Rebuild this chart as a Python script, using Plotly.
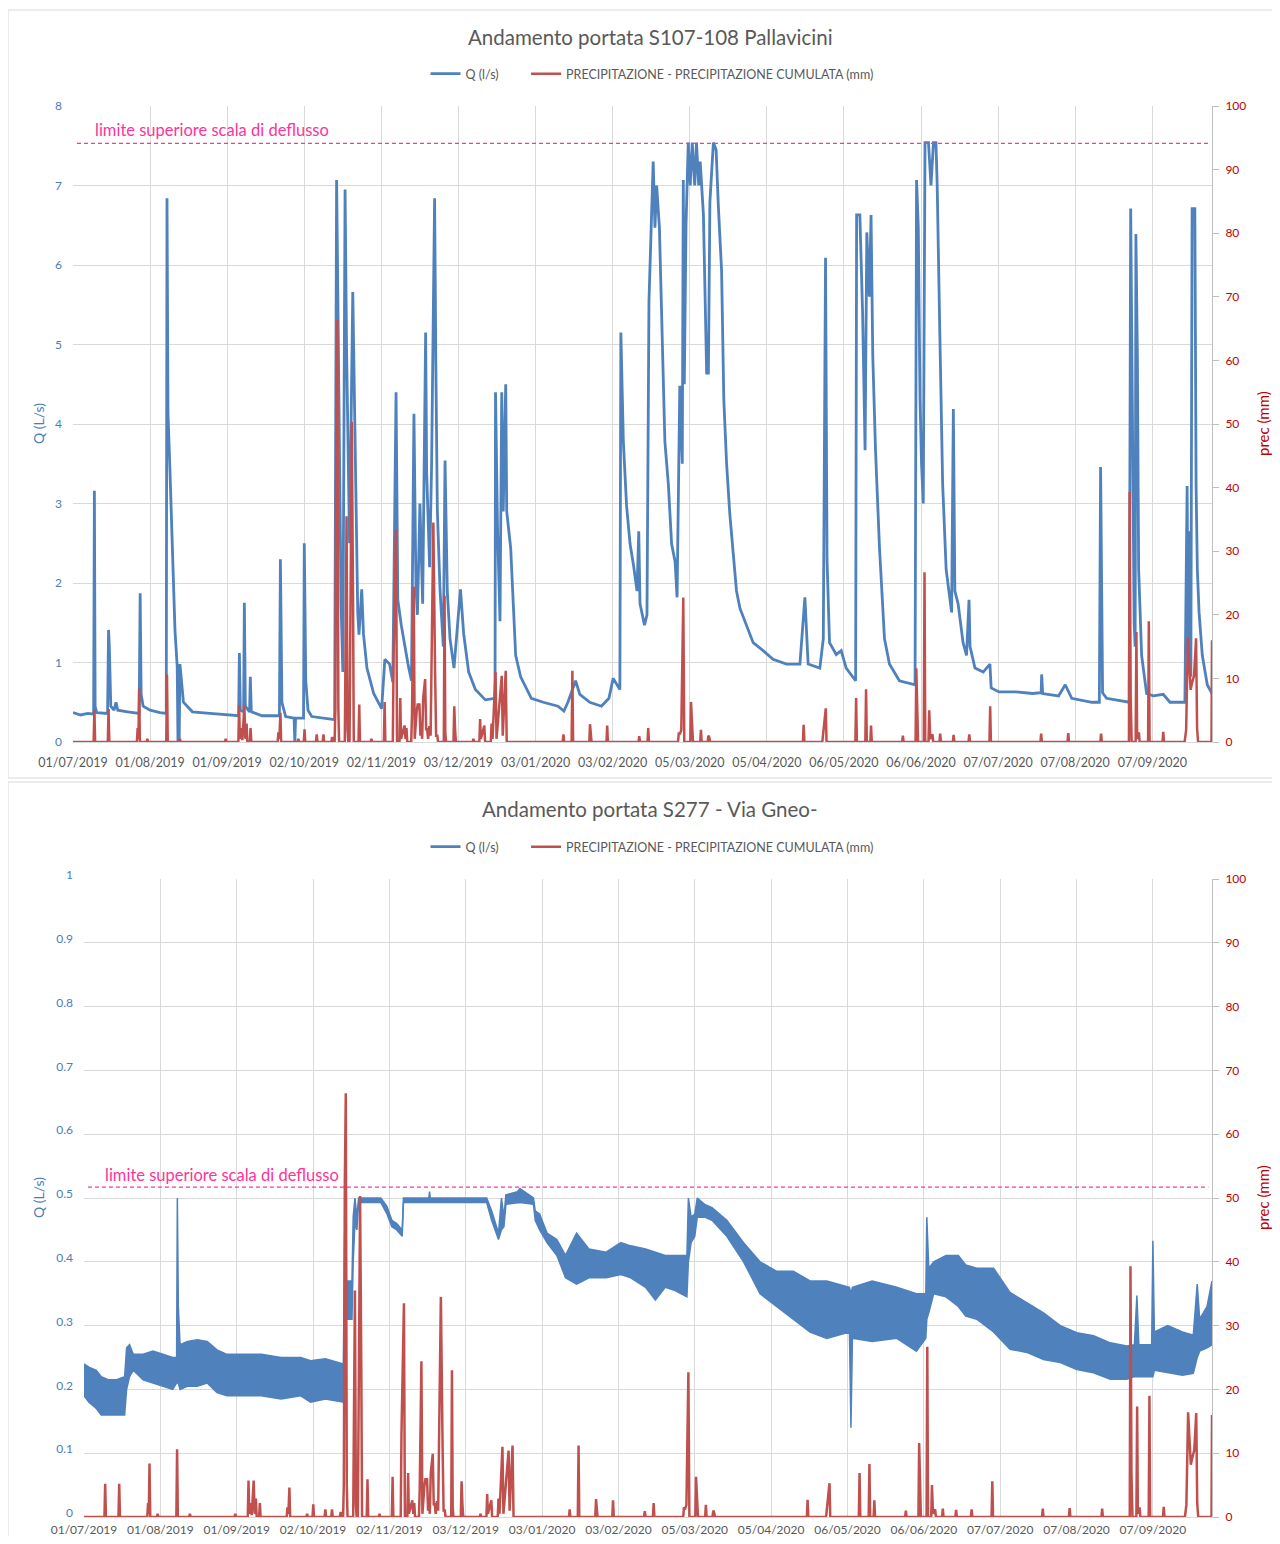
import numpy as np
import plotly.graph_objects as go

# ---------------- DATA (x values are days since 01/07/2019) ----------------
START = "2019-07-01"
END = "2020-10-01"

q1_day = [0, 3, 6, 8.3, 8.6, 8.9, 9.5, 13.9, 14.3, 14.6,
          15.2, 16.5, 17.3, 18, 22, 26.6, 27.0, 27.4, 28.2, 31,
          35, 37.5, 37.8, 38.2, 39.0, 40.3, 41.0, 41.9, 42.2, 42.7,
          43.0, 44.4, 48, 55, 62, 66.6, 66.9, 67.3, 68.6, 68.9,
          69.3, 71.0, 71.3, 71.7, 76, 83.0, 83.4, 84.0, 85.5, 88.9,
          89.2, 89.5, 92.7, 93.0, 93.6, 94.5, 96, 100, 105.2, 106.0,
          106.4, 107.3, 107.8, 108.5, 109.4, 110.0, 110.6, 111.2, 112.5, 113.0,
          113.7, 114.5, 115.0, 116.1, 116.8, 118.2, 120.9, 124.1, 125.4, 127.3,
          128.6, 129.9, 130.6, 132.0, 134.7, 136.1, 137.1, 137.9, 138.5, 139.5,
          140.6, 141.8, 142.2, 142.8, 143.4, 144.2, 145.4, 145.9, 146.5, 147.6,
          148.9, 149.6, 150.5, 151.6, 153.2, 155.8, 157.1, 159.1, 161.8, 165.8,
          169.7, 169.9, 170.7, 171.7, 172.4, 173.0, 174.0, 174.4, 176.0, 178.0,
          180.0, 184.3, 189.1, 195, 197.4, 199, 202.1, 203.8, 207.8, 212.5,
          215.5, 217.2, 219.9, 220.3, 221.3, 222.6, 224.0, 225.4, 226.8, 227.5,
          228.0, 229.8, 230.8, 231.6, 232.0, 232.7, 233.3, 234.0, 234.7, 235.8,
          236.7, 238.0, 239.4, 240.7, 242.1, 242.9, 244.0, 245.0, 245.4, 245.8,
          246.5, 247.4, 248.2, 249.0, 250.0, 250.7, 251.6, 252.2, 253.5, 254.8,
          255.5, 256.1, 257.5, 258.6, 259.5, 260.8, 261.7, 262.8, 264.1, 265.5,
          266.8, 268.2, 270.8, 273.5, 277.5, 281.5, 286.9, 292.3, 294.3, 295.6,
          300.3, 301.7, 302.6, 303.2, 304.2, 306.9, 308.9, 310.9, 314.7, 315.1,
          316.4, 317.5, 318.5, 319.2, 320.2, 320.9, 321.6, 322.7, 324.3, 326.3,
          328.3, 332.3, 338.6, 339.2, 339.9, 340.6, 341.2, 341.9, 342.6, 344.0,
          345.0, 346.0, 347.0, 347.5, 348.4, 349.7, 351.1, 353.3, 354.0, 354.6,
          355.9, 357.9, 359.3, 360.3, 360.7, 362.7, 366.0, 368.7, 369.2, 372.4,
          379.1, 385.8, 389.3, 389.5, 389.9, 396.3, 399.0, 401.6, 409.7, 412.7,
          413.2, 414.0, 415.6, 424.7, 425.3, 426.1, 426.7, 427.1, 427.4, 428.0,
          428.5, 429.7, 431.7, 434.4, 438.4, 441.1, 447.1, 448.0, 448.4, 448.7,
          449.5, 450.0, 451.1, 451.6, 452.1, 452.8, 454.1, 456.1, 458.0]
q1_val = [0.37, 0.34, 0.36, 0.35, 3.16, 0.45, 0.37, 0.36, 1.41, 1.2,
          0.45, 0.4, 0.5, 0.4, 0.38, 0.36, 1.87, 0.6, 0.45, 0.4,
          0.37, 0.36, 6.84, 4.13, 3.4, 2.27, 1.41, 0.95, 0.02, 0.02,
          0.98, 0.5, 0.38, 0.36, 0.34, 0.33, 1.12, 0.4, 0.38, 1.75,
          0.45, 0.38, 0.82, 0.38, 0.33, 0.33, 2.3, 0.5, 0.32, 0.3,
          0.0, 0.3, 0.3, 2.5, 0.77, 0.4, 0.32, 0.3, 0.28, 7.07,
          5.7, 2.65, 1.74, 0.88, 6.95, 4.96, 3.5, 2.5, 5.66, 4.69,
          3.08, 1.63, 1.35, 1.92, 1.36, 0.93, 0.61, 0.42, 1.04, 0.98,
          0.75, 4.4, 1.79, 1.47, 0.98, 0.77, 4.13, 1.95, 1.6, 3.0,
          1.74, 5.15, 3.4, 2.7, 2.2, 3.5, 6.84, 4.75, 2.92, 1.9,
          1.2, 3.54, 1.9, 1.3, 0.93, 1.92, 1.36, 0.88, 0.66, 0.53,
          0.55, 4.4, 2.7, 1.52, 4.4, 2.9, 4.5, 2.9, 2.44, 1.09,
          0.82, 0.55, 0.5, 0.45, 0.39, 0.5, 0.77, 0.6, 0.5, 0.45,
          0.55, 0.8, 0.66, 5.15, 3.78, 2.97, 2.49, 2.22, 1.9, 2.65,
          1.74, 1.47, 1.6, 5.55, 6.0, 6.95, 7.3, 6.47, 7.0, 6.47,
          5.4, 3.78, 3.24, 2.49, 2.27, 1.82, 4.48, 3.5, 7.07, 4.5,
          6.5, 7.54, 7.0, 7.54, 7.0, 7.54, 7.0, 7.3, 6.63, 4.64,
          4.64, 6.79, 7.54, 7.45, 6.74, 5.93, 4.3, 3.51, 2.87, 2.38,
          1.9, 1.68, 1.47, 1.25, 1.15, 1.04, 0.98, 0.98, 1.82, 0.98,
          0.93, 1.3, 6.09, 2.3, 1.25, 1.1, 1.15, 0.93, 0.77, 6.63,
          6.63, 5.4, 3.67, 6.41, 5.6, 6.63, 4.85, 3.67, 2.44, 1.3,
          0.98, 0.77, 0.72, 7.07, 6.47, 4.3, 3.5, 3.0, 7.54, 7.54,
          7.0, 7.54, 7.54, 7.0, 5.4, 3.24, 2.17, 1.63, 4.19, 1.9,
          1.74, 1.25, 1.09, 1.79, 1.2, 0.93, 0.88, 0.98, 0.68, 0.63,
          0.63, 0.61, 0.62, 0.85, 0.61, 0.58, 0.72, 0.55, 0.5, 0.5,
          3.46, 0.62, 0.55, 0.5, 6.71, 3.62, 1.5, 1.2, 6.39, 4.85,
          2.17, 1.09, 0.61, 0.58, 0.6, 0.5, 0.5, 3.22, 1.1, 2.65,
          0.82, 6.71, 6.71, 3.24, 2.17, 1.63, 1.09, 0.72, 0.61]

# S277: flow read as the lower and upper edge of the noisy trace
q2_day = [0, 2, 5, 7, 10, 13, 16.5, 17.3, 18.5, 20,
          24, 28, 32, 36, 37.6, 37.9, 38.3, 39, 42, 46,
          50, 54, 58, 65, 72, 80, 88, 92, 98, 105.3,
          106.0, 106.5, 108.8, 109.3, 110.0, 110.8, 111.5, 120.5, 123, 125,
          127, 129.2, 129.7, 140, 140.3, 140.6, 163.5, 165.5, 168.3, 169.5,
          170.5, 171.3, 176, 177, 182.5, 183.2, 185, 188, 192, 195.5,
          200, 205, 212, 218, 222, 228, 232, 236, 240, 244.8,
          245.4, 246.5, 248, 249, 252, 255, 261, 267.8, 274.5, 281.3,
          288, 294.8, 301.6, 310.8, 311.4, 312, 320, 330, 338, 341.8,
          342.2, 343, 345, 350, 355, 358, 362.5, 369.3, 376, 382.8,
          389.6, 396.4, 403.1, 409.9, 416.7, 423.4, 426.5, 427.5, 428.3, 433.5,
          434, 434.6, 440, 446, 450.4, 452, 453, 456, 458]
q2_low = [0.19, 0.18, 0.17, 0.16, 0.16, 0.16, 0.16, 0.2, 0.22, 0.23,
          0.215, 0.21, 0.205, 0.2, 0.21, 0.21, 0.21, 0.2, 0.205, 0.205,
          0.21, 0.195, 0.19, 0.19, 0.19, 0.185, 0.19, 0.18, 0.185, 0.18,
          0.3, 0.31, 0.31, 0.4, 0.46, 0.45, 0.493, 0.493, 0.475, 0.455,
          0.45, 0.44, 0.493, 0.493, 0.493, 0.493, 0.493, 0.465, 0.435, 0.45,
          0.455, 0.49, 0.493, 0.493, 0.49, 0.465, 0.45, 0.43, 0.41, 0.375,
          0.365, 0.375, 0.375, 0.38, 0.375, 0.36, 0.34, 0.36, 0.355, 0.345,
          0.4, 0.43, 0.44, 0.47, 0.47, 0.465, 0.44, 0.4, 0.35, 0.33,
          0.31, 0.29, 0.28, 0.29, 0.14, 0.28, 0.275, 0.28, 0.26, 0.28,
          0.31, 0.32, 0.35, 0.345, 0.33, 0.315, 0.31, 0.29, 0.263, 0.258,
          0.247, 0.242, 0.231, 0.226, 0.216, 0.216, 0.22, 0.22, 0.22, 0.22,
          0.22, 0.23, 0.226, 0.222, 0.225, 0.25, 0.26, 0.265, 0.27]
q2_high = [0.24, 0.235, 0.23, 0.22, 0.215, 0.215, 0.22, 0.265, 0.27, 0.255,
           0.255, 0.26, 0.255, 0.25, 0.25, 0.5, 0.33, 0.27, 0.275, 0.278,
           0.275, 0.262, 0.255, 0.255, 0.255, 0.25, 0.25, 0.245, 0.248, 0.24,
           0.5, 0.37, 0.37, 0.47, 0.5, 0.47, 0.5, 0.5, 0.487, 0.465,
           0.46, 0.45, 0.5, 0.5, 0.51, 0.5, 0.5, 0.48, 0.445, 0.5,
           0.47, 0.505, 0.51, 0.515, 0.5, 0.48, 0.475, 0.445, 0.435, 0.41,
           0.445, 0.42, 0.415, 0.43, 0.425, 0.42, 0.415, 0.41, 0.41, 0.41,
           0.5, 0.47, 0.475, 0.5, 0.49, 0.485, 0.465, 0.43, 0.4, 0.385,
           0.385, 0.37, 0.37, 0.36, 0.35, 0.36, 0.37, 0.36, 0.35, 0.35,
           0.47, 0.39, 0.4, 0.41, 0.41, 0.395, 0.39, 0.39, 0.352, 0.336,
           0.32, 0.3, 0.289, 0.284, 0.273, 0.268, 0.27, 0.347, 0.27, 0.27,
           0.433, 0.29, 0.3, 0.29, 0.285, 0.365, 0.31, 0.33, 0.37]

# Precipitation (mm), same rain gauge for both charts
prec_day = [0, 8.3, 8.6, 8.9, 14.0, 14.3, 14.6, 25.7, 26.0, 26.3, 26.6, 26.9,
            29.6, 29.9, 30.2, 37.5, 37.8, 38.1, 42.7, 43.0, 43.3, 61.1, 61.4, 61.7,
            66.5, 66.8, 67.1, 67.8, 68.1, 68.9, 69.3, 69.8, 70.1, 71.1, 71.4, 71.7,
            82.3, 82.6, 83.0, 83.4, 83.7, 90.3, 90.6, 90.9, 92.8, 93.1, 93.4,
            97.7, 98.0, 98.3, 100.4, 100.7, 101.0, 103.9, 104.2, 104.5,
            105.2, 105.5, 105.9, 106.3, 106.7, 107.0,
            109.3, 109.6, 110.0, 110.4, 110.7, 111.2, 111.6, 112.1, 112.6, 112.9,
            114.8, 115.1, 115.4, 119.7, 120.0, 120.3, 125.0, 125.3, 125.6,
            128.6, 128.9, 129.9, 130.3, 131.3, 131.6, 131.9, 133.3, 133.7, 134.1, 134.4,
            136.0, 136.3, 137.0, 137.4, 138.2, 138.6, 139.3, 139.7, 140.0, 140.4,
            140.8, 141.6, 142.0, 142.4, 142.8, 143.3, 143.8, 144.2, 144.9, 145.6,
            146.0, 146.5, 146.8, 149.1, 149.4, 149.7, 150.0, 153.0, 153.3, 153.7, 154.0,
            160.7, 161.0, 161.3, 163.4, 163.7, 164.0, 165.4, 165.7,
            168.0, 168.3, 168.7, 169.9, 170.3, 172.4, 172.8, 174.0, 174.4,
            196.9, 197.2, 197.5, 200.5, 200.8, 201.1, 207.6, 207.9, 208.2, 208.5,
            214.5, 214.8, 215.1, 227.4, 227.7, 228.0, 231.0, 231.3, 231.6,
            243.3, 243.6, 244.0, 244.6, 245.4, 245.8, 248.2, 248.5, 248.9, 249.3,
            252.2, 252.5, 252.8, 255.2, 255.5, 255.8, 256.2, 293.5, 293.8, 294.1,
            301.3, 301.6, 302.7, 303.0, 314.6, 314.9, 315.2, 318.6, 318.9, 319.2,
            320.6, 320.9, 321.2, 333.4, 333.7, 334.0, 338.8, 339.1, 339.5, 339.8,
            342.1, 342.4, 342.7, 344.0, 344.3, 344.7, 345.6, 345.9,
            348.4, 348.7, 349.0, 353.8, 354.1, 354.4, 360.1, 360.4, 360.7,
            368.5, 368.8, 369.1, 389.0, 389.3, 389.6, 399.9, 400.2, 400.5,
            413.1, 413.4, 413.7, 424.6, 424.9, 425.3, 425.7, 427.3, 427.6, 427.9,
            428.6, 428.9, 432.3, 432.6, 432.9, 438.1, 438.4, 438.7,
            447.0, 447.6, 448.3, 449.0, 449.4, 450.0, 450.8, 451.6, 452.0, 452.4,
            457.8, 458.0]
prec_mm = [0, 0, 5.2, 0, 0, 5.2, 0, 0, 2.2, 0.5, 8.4, 0,
           0, 0.5, 0, 0, 10.6, 0, 0, 0.5, 0, 0, 0.5, 0,
           0, 5.7, 0.5, 2.2, 0.3, 5.7, 0.5, 2.9, 0, 0, 2.2, 0,
           0, 1.5, 0.5, 4.6, 0, 0, 0.5, 0, 0, 2.0, 0,
           0, 1.2, 0, 0, 1.2, 0, 0, 0.8, 0,
           0, 5.2, 52.3, 66.4, 5.1, 0,
           0, 12.1, 35.5, 2.0, 0, 0, 19.7, 50.3, 22.7, 0,
           0, 5.9, 0, 0, 0.5, 0, 0, 6.3, 0,
           0, 13.0, 33.5, 0, 0, 6.9, 0.5, 2.6, 0.5, 2.2, 0,
           0, 4.2, 24.4, 0.5, 4.8, 5.9, 5.9, 1.0, 2.5, 0.5,
           6.9, 9.9, 2.0, 2.0, 0.5, 2.5, 1.0, 11.0, 34.5, 11.0,
           1.0, 1.0, 0, 0, 23.0, 1.5, 0, 0, 5.6, 1.5, 0,
           0, 0.5, 0, 0, 3.6, 0.5, 2.6, 0,
           0, 2.9, 0.5, 11.0, 0.5, 10.4, 1.0, 11.2, 0,
           0, 1.2, 0, 0, 11.2, 0, 0, 2.8, 0.5, 0,
           0, 2.6, 0, 0, 0.9, 0, 0, 2.2, 0,
           0, 1.5, 1.2, 1.9, 22.7, 0, 0, 6.3, 3.2, 0,
           0, 1.9, 0, 0, 1.0, 0.8, 0, 0, 2.7, 0,
           0, 1.0, 5.3, 0, 0, 6.9, 0, 0, 8.3, 0,
           0, 2.6, 0, 0, 1.0, 0, 0, 11.6, 4.2, 0,
           0, 26.7, 0, 0, 5.0, 0.5, 1.2, 0,
           0, 1.3, 0, 0, 1.1, 0, 0, 1.2, 0,
           0, 5.6, 0, 0, 1.3, 0, 0, 1.4, 0,
           0, 1.3, 0, 0, 39.3, 7.0, 0, 0, 17.3, 0.5,
           1.5, 0, 0, 19.0, 0, 0, 1.6, 0,
           0, 1.9, 16.4, 10.3, 8.2, 9.3, 10.5, 16.3, 2.2, 0,
           0, 16.0]

# upper limit of the rating curve (dashed lines)
lim1_day = [1.6, 457.2]
lim1_val = [7.53, 7.53]
lim2_day = [1.6, 456.5]
lim2_val = [0.517, 0.517]

TITLE1 = "Andamento portata S107-108 Pallavicini"
TITLE2 = "Andamento portata S277 - Via Gneo-"
NAME_Q = "Q (l/s)"
NAME_P = "PRECIPITAZIONE - PRECIPITAZIONE CUMULATA (mm)"
LIMIT_TXT = "limite superiore scala di deflusso"

# ---------------- helpers ----------------
BASE = np.datetime64(START + "T00:00")


def to_dt(days):
    return BASE + (np.asarray(days, dtype=float) * 86400000).astype("timedelta64[ms]")


W, H, OFF = 1264, 1528, 8


def px(x):
    return (x - OFF) / W


def py(y):
    return 1 - (y - OFF) / H


BLUE = "#4f81bd"
RED = "#c0504d"
PINK = "#ff3399"
GRID = "#d9d9d9"
AXC = "#bfbfbf"
TXT = "#595959"
BLUE_T = "#4a7ebb"
RED_T = "#c00000"
FONT = "Lato, 'Open Sans', sans-serif"
GAP = "\u00a0" * 7   # extra spacing after the first legend entry

fig = go.Figure()

# ---- top chart ----
fig.add_trace(go.Scatter(x=to_dt(q1_day), y=q1_val, mode="lines", name=NAME_Q + GAP, legendrank=1,
                         line=dict(color=BLUE, width=2.8), xaxis="x", yaxis="y", legend="legend"))
fig.add_trace(go.Scatter(x=to_dt(lim1_day), y=lim1_val, mode="lines", showlegend=False,
                         line=dict(color=PINK, width=1.2, dash="4px,3px"), xaxis="x", yaxis="y"))
fig.add_trace(go.Scatter(x=to_dt(prec_day), y=prec_mm, mode="lines", name=NAME_P, legendrank=2,
                         line=dict(color=RED, width=2.5), xaxis="x", yaxis="y2", legend="legend"))

# ---- bottom chart ----
fig.add_trace(go.Scatter(x=[None], y=[None], mode="lines", name=NAME_Q + GAP, legendrank=1,
                         line=dict(color=BLUE, width=2.8), xaxis="x2", yaxis="y3", legend="legend2"))
fig.add_trace(go.Scatter(x=to_dt(q2_day), y=q2_low, mode="lines", showlegend=False,
                         line=dict(color=BLUE, width=1.5), xaxis="x2", yaxis="y3"))
fig.add_trace(go.Scatter(x=to_dt(q2_day), y=q2_high, mode="lines", showlegend=False,
                         fill="tonexty", fillcolor=BLUE,
                         line=dict(color=BLUE, width=1.5), xaxis="x2", yaxis="y3"))
fig.add_trace(go.Scatter(x=to_dt(lim2_day), y=lim2_val, mode="lines", showlegend=False,
                         line=dict(color=PINK, width=1.2, dash="4px,3px"), xaxis="x2", yaxis="y3"))
fig.add_trace(go.Scatter(x=to_dt(prec_day), y=prec_mm, mode="lines", name=NAME_P, legendrank=2,
                         line=dict(color=RED, width=2.5), xaxis="x2", yaxis="y4", legend="legend2"))

DTICK = 31 * 86400000


def xaxis_cfg(dom, anchor, size, standoff):
    return dict(domain=dom, anchor=anchor, type="date", range=[START, END], automargin=False,
                tick0=START, dtick=DTICK, tickformat="%d/%m/%Y",
                showgrid=True, gridcolor=GRID, gridwidth=1, ticks="",
                tickfont=dict(size=size, color=TXT, family=FONT),
                showline=True, linecolor=GRID, zeroline=False, ticklabelstandoff=standoff)


def yleft_cfg(dom, anchor, rng, dt, shift):
    return dict(domain=dom, anchor=anchor, range=rng, dtick=dt, tick0=0, automargin=False,
                showgrid=True, gridcolor=GRID, gridwidth=1, ticks="",
                tickfont=dict(size=12, color=BLUE_T, family=FONT),
                zeroline=False, showline=False, ticklabelstandoff=10, ticklabelshift=shift)


def yright_cfg(over, anchor):
    return dict(overlaying=over, side="right", anchor=anchor, range=[0, 100], dtick=10, tick0=0,
                automargin=False, showgrid=False, ticks="outside", ticklen=6, tickcolor=AXC,
                tickfont=dict(size=12, color=RED_T, family=FONT),
                showline=True, linecolor=AXC, zeroline=False, ticklabelstandoff=4)


LEG = dict(orientation="h", xanchor="center", yanchor="middle", traceorder="normal",
           font=dict(size=12.5, color=TXT, family=FONT), bgcolor="rgba(0,0,0,0)", itemwidth=30)

fig.update_layout(
    width=W, height=H, margin=dict(l=0, r=0, t=0, b=0, autoexpand=False),
    paper_bgcolor="white", plot_bgcolor="white",
    font=dict(family=FONT, color=TXT),
    xaxis=xaxis_cfg([px(73), px(1212)], "y", 12.5, 9),
    yaxis=yleft_cfg([py(742), py(106)], "x", [0, 8], 1, 0),
    yaxis2=yright_cfg("y", "x"),
    xaxis2=xaxis_cfg([px(84), px(1212)], "y3", 12, 2),
    yaxis3=yleft_cfg([py(1517), py(879)], "x2", [0, 1], 0.1, -4),
    yaxis4=yright_cfg("y3", "x2"),
    legend=dict(LEG, x=px(652), y=py(74)),
    legend2=dict(LEG, x=px(652), y=py(847)),
    shapes=[
        dict(type="rect", xref="paper", yref="paper", x0=0, x1=1.02, y0=py(778), y1=py(10),
             line=dict(color=GRID, width=1), layer="below"),
        dict(type="rect", xref="paper", yref="paper", x0=0, x1=1.02, y0=py(1560), y1=py(782),
             line=dict(color=GRID, width=1), layer="below"),
    ],
)

annots = [
    dict(text=TITLE1, x=px(650), y=py(37), font=dict(size=20.5, color=TXT)),
    dict(text=TITLE2, x=px(650), y=py(809), font=dict(size=20.5, color=TXT)),
    dict(text=LIMIT_TXT, x=px(93), y=py(130), xanchor="left", font=dict(size=16.5, color=PINK)),
    dict(text=LIMIT_TXT, x=px(103), y=py(1175), xanchor="left", font=dict(size=16.5, color=PINK)),
    dict(text="Q (L/s)", x=px(38), y=py(424), textangle=-90, font=dict(size=14, color=BLUE_T)),
    dict(text="prec (mm)", x=px(1263), y=py(424), textangle=-90, font=dict(size=15, color=RED_T)),
    dict(text="Q (L/s)", x=px(38), y=py(1198), textangle=-90, font=dict(size=14, color=BLUE_T)),
    dict(text="prec (mm)", x=px(1263), y=py(1198), textangle=-90, font=dict(size=15, color=RED_T)),
]
for a in annots:
    a.setdefault("xanchor", "center")
    a["font"]["family"] = FONT
    fig.add_annotation(xref="paper", yref="paper", yanchor="middle", showarrow=False, **a)

fig.write_html("out.html")
